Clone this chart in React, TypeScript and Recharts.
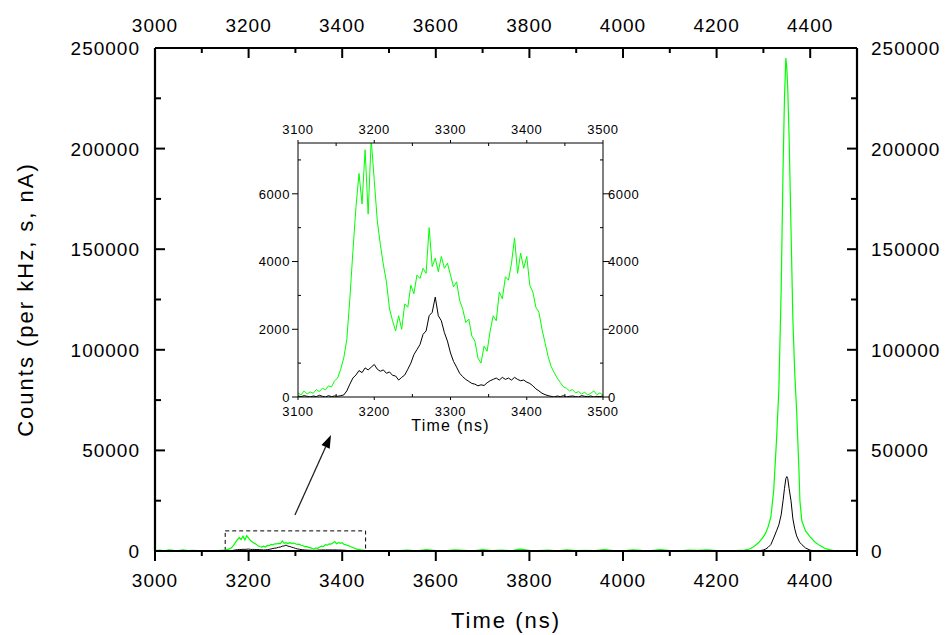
import { LineChart, Line, XAxis, YAxis, ReferenceArea, ReferenceLine } from "recharts";

// ---- data ----
const PRE_T = [3000, 3010, 3020, 3030, 3040, 3050, 3060, 3070, 3080, 3090];
const PRE_GREEN = [200, 450, 120, 600, 300, 150, 520, 250, 380, 180];
const PRE_BLACK = [0, 0, 0, 0, 0, 0, 0, 0, 0, 0];

const INSET_T = [
  3100, 3104, 3108, 3112, 3116, 3120, 3124, 3128, 3132, 3136,
  3140, 3144, 3148, 3152, 3156, 3160, 3164, 3168, 3172, 3176,
  3180, 3184, 3188, 3192, 3196, 3200, 3204, 3208, 3212, 3216,
  3220, 3224, 3228, 3232, 3236, 3240, 3244, 3248, 3252, 3256,
  3260, 3264, 3268, 3272, 3276, 3280, 3284, 3288, 3292, 3296,
  3300, 3304, 3308, 3312, 3316, 3320, 3324, 3328, 3332, 3336,
  3340, 3344, 3348, 3352, 3356, 3360, 3364, 3368, 3372, 3376,
  3380, 3384, 3388, 3392, 3396, 3400, 3404, 3408, 3412, 3416,
  3420, 3424, 3428, 3432, 3436, 3440, 3444, 3448, 3452, 3456,
  3460, 3464, 3468, 3472, 3476, 3480, 3484, 3488, 3492, 3496,
  3500,
];
const INSET_GREEN = [
  120, 60, 180, 90, 150, 110, 220, 160, 260, 210,
  330, 300, 480, 560, 820, 1150, 1700, 2900, 4300, 5600,
  6600, 5700, 7300, 5400, 7600, 6400, 5200, 4500, 3900, 3400,
  2600, 2250, 1950, 2400, 2000, 2750, 2650, 3300, 3050, 3600,
  3500, 3800, 3650, 5000, 3850, 4100, 3700, 4150, 3800, 3950,
  3600, 3250, 3400, 2850, 2600, 2200, 2300, 1800, 1650, 1150,
  1000, 1500, 1350, 1950, 2400, 2250, 3100, 2900, 3550, 3450,
  3950, 4700, 3650, 4250, 3800, 4150, 3300, 3100, 2650, 2500,
  2000, 1600, 1200, 900, 720, 560, 430, 300, 260, 180,
  220, 120, 160, 90, 140, 60, 110, 180, 70, 120,
  50,
];
const INSET_BLACK = [
  30, 10, 40, 20, 0, 30, 10, 50, 20, 0,
  40, 10, 30, 20, 40, 60, 180, 380, 560, 650,
  780, 720, 860, 800, 880, 960, 820, 760, 800, 700,
  740, 640, 620, 500, 580, 650, 820, 1000, 1250, 1400,
  1550, 1850, 1950, 2400, 2500, 2950, 2400, 2250, 1900, 1650,
  1300, 1050, 880, 700, 600, 520, 460, 400, 380, 330,
  360, 340, 420, 480, 520, 560, 500, 580, 520, 560,
  500, 580, 520, 480, 500, 440, 400, 330, 240, 180,
  110, 70, 40, 20, 0, 30, 10, 40, 0, 20,
  30, 10, 0, 40, 20, 10, 30, 0, 20, 10,
  30,
];

const POST_T = [
  3520, 3540, 3560, 3580, 3600, 3620, 3640, 3660, 3680, 3700, 3720, 3740,
  3760, 3780, 3800, 3820, 3840, 3860, 3880, 3900, 3920, 3940, 3960, 3980,
  4000, 4020, 4040, 4060, 4080, 4100, 4120, 4140, 4160, 4180, 4200, 4220,
];
const POST_GREEN = [
  150, 420, 90, 700, 260, 130, 550, 310, 80, 640, 220, 400,
  120, 880, 300, 180, 470, 90, 620, 250, 350, 140, 720, 200,
  90, 510, 280, 160, 650, 230, 110, 400, 300, 520, 180, 260,
];
const POST_BLACK = [
  0, 0, 0, 0, 0, 0, 0, 0, 0, 0, 0, 0,
  0, 0, 0, 0, 0, 0, 0, 0, 0, 0, 0, 0,
  0, 0, 0, 0, 0, 0, 0, 0, 0, 0, 0, 0,
];

const PEAK_T = [
  4240, 4260, 4270, 4280, 4290, 4300, 4305, 4310, 4316, 4322, 4328, 4333,
  4338, 4342, 4345, 4348, 4350, 4352, 4355, 4359, 4363, 4367, 4371, 4376,
  4378, 4382, 4390, 4400, 4410, 4420, 4430, 4440, 4450, 4460,
];
const PEAK_GREEN = [
  150, 400, 1000, 2200, 4200, 7000, 9000, 12000, 17000, 30000, 55000, 80000,
  130000, 190000, 225000, 245000, 240000, 230000, 205000, 160000, 115000, 88000, 70000, 40000,
  25000, 15000, 10000, 7000, 4500, 2800, 1500, 700, 200, 80,
];
const PEAK_BLACK = [
  0, 0, 0, 0, 100, 500, 1000, 1800, 3200, 6500, 10000, 13000,
  18000, 25000, 31000, 36000, 37000, 36000, 31000, 25000, 16000, 11000, 7500, 5000,
  4200, 3200, 1500, 400, 100, 0, 0, 0, 0, 0,
];

const TAIL_T = [4470, 4480, 4490, 4500];
const TAIL_GREEN = [90, 160, 60, 120];
const TAIL_BLACK = [0, 0, 0, 0];

const MAIN_X_TICKS = [3000, 3100, 3200, 3300, 3400, 3500, 3600, 3700, 3800, 3900, 4000, 4100, 4200, 4300, 4400, 4500];
const MAIN_Y_TICKS = [0, 25000, 50000, 75000, 100000, 125000, 150000, 175000, 200000, 225000, 250000];
const INSET_X_TICKS = [3100, 3150, 3200, 3250, 3300, 3350, 3400, 3450, 3500];
const INSET_Y_TICKS = [0, 1000, 2000, 3000, 4000, 5000, 6000, 7000];

function rows(t: number[], g: number[], k: number[]) {
  return t.map((v, i) => ({ t: v, g: g[i], k: k[i] }));
}

const mainRows = [
  ...rows(PRE_T, PRE_GREEN, PRE_BLACK),
  ...rows(INSET_T, INSET_GREEN, INSET_BLACK),
  ...rows(POST_T, POST_GREEN, POST_BLACK),
  ...rows(PEAK_T, PEAK_GREEN, PEAK_BLACK),
  ...rows(TAIL_T, TAIL_GREEN, TAIL_BLACK),
];
const insetRows = rows(INSET_T, INSET_GREEN, INSET_BLACK);

const FONT = "'Liberation Sans', Arial, sans-serif";

// custom tick: draws its own tick mark (major/minor, in/out) and label
function makeTick(o: any) {
  return (props: any) => {
    const { x, y, payload } = props;
    const v = payload.value;
    const maj = o.isMajor(v);
    const len = maj ? o.major : o.minor;
    const out = maj ? o.out : o.minorOut;
    const txt = { fontFamily: FONT, fontSize: o.fontSize, letterSpacing: o.spacing, fill: "#000" };
    let d = 0;
    let line: any = null;
    let label: any = null;
    if (o.side === "bottom") {
      d = out ? len : -len;
      line = <line x1={x} y1={y} x2={x} y2={y + d} />;
      if (maj) label = <text x={x} y={y + o.gap} textAnchor="middle" {...txt}>{v}</text>;
    } else if (o.side === "top") {
      d = out ? -len : len;
      line = <line x1={x} y1={y} x2={x} y2={y + d} />;
      if (maj) label = <text x={x} y={y - o.gap} textAnchor="middle" {...txt}>{v}</text>;
    } else if (o.side === "left") {
      d = out ? -len : len;
      line = <line x1={x} y1={y} x2={x + d} y2={y} />;
      if (maj) label = <text x={x - o.gap} y={y + o.base} textAnchor="end" {...txt}>{v}</text>;
    } else {
      d = out ? len : -len;
      line = <line x1={x} y1={y} x2={x + d} y2={y} />;
      if (maj) label = <text x={x + o.gap} y={y + o.base} textAnchor="start" {...txt}>{v}</text>;
    }
    return (
      <g stroke="#000" strokeWidth={o.lw}>
        {line}
        <g stroke="none">{label}</g>
      </g>
    );
  };
}

const mainX = (side: string, out: boolean, gap: number) =>
  makeTick({ side, isMajor: (v: number) => v % 200 === 0, major: 10, minor: 5, out, minorOut: out, gap, fontSize: 19, spacing: 1, base: 7, lw: 2 });
const mainY = (side: string, gap: number) =>
  makeTick({ side, isMajor: (v: number) => v % 50000 === 0, major: 10, minor: 6, out: false, minorOut: false, gap, fontSize: 19, spacing: 1, base: 7, lw: 2 });
const insX = (side: string, gap: number) =>
  makeTick({ side, isMajor: (v: number) => v % 100 === 0, major: 3, minor: 3, out: true, minorOut: false, gap, fontSize: 13, spacing: 0.6, base: 4.7, lw: 1 });
const insY = (side: string, gap: number) =>
  makeTick({ side, isMajor: (v: number) => v % 2000 === 0, major: 6, minor: 3, out: true, minorOut: false, gap, fontSize: 13, spacing: 0.6, base: 4.7, lw: 1 });

const Arrow = (p: any) => {
  const { x1, y1, x2, y2 } = p;
  const dx = x2 - x1;
  const dy = y2 - y1;
  const L = Math.sqrt(dx * dx + dy * dy) || 1;
  const ux = dx / L;
  const uy = dy / L;
  const hl = 13;
  const hw = 4.5;
  const bx = x2 - ux * hl;
  const by = y2 - uy * hl;
  return (
    <g>
      <line x1={x1} y1={y1} x2={bx} y2={by} stroke="#222" strokeWidth={1.3} />
      <polygon
        points={`${x2},${y2} ${bx - uy * hw},${by + ux * hw} ${bx + uy * hw},${by - ux * hw}`}
        fill="#000"
      />
    </g>
  );
};

const axisMain = { stroke: "#000", strokeWidth: 2.2 };
const axisInset = { stroke: "#000", strokeWidth: 1 };

export default function App() {
  return (
    <div style={{ position: "absolute", left: 0, top: 0, width: 945, height: 635, background: "#fff" }}>
      <div style={{ position: "absolute", left: 0, top: 0 }}>
        <LineChart width={945} height={635} data={mainRows} margin={{ top: 0, right: 0, bottom: 0, left: 0 }}>
          <XAxis
            xAxisId="b" dataKey="t" type="number" orientation="bottom" domain={[3000, 4500]}
            ticks={MAIN_X_TICKS} interval={0} height={84} tickSize={0} tickMargin={0} tickLine={false}
            stroke="#000" axisLine={axisMain} tick={mainX("bottom", true, 36)}
            label={{
              content: (p: any) => {
                const vb = p.viewBox || { x: 155, y: 551, width: 702 };
                return (
                  <text x={vb.x + vb.width / 2} y={vb.y + 77} textAnchor="middle"
                    style={{ fontFamily: FONT, fontSize: 22, letterSpacing: 2, fill: "#000" }}>
                    Time (ns)
                  </text>
                );
              },
            }}
          />
          <XAxis
            xAxisId="t" dataKey="t" type="number" orientation="top" domain={[3000, 4500]}
            ticks={MAIN_X_TICKS} interval={0} height={48} tickSize={0} tickMargin={0} tickLine={false}
            stroke="#000" axisLine={axisMain} tick={mainX("top", false, 16)}
          />
          <YAxis
            yAxisId="l" type="number" orientation="left" domain={[0, 250000]} ticks={MAIN_Y_TICKS}
            interval={0} width={155} tickSize={0} tickMargin={0} tickLine={false}
            stroke="#000" axisLine={axisMain} tick={mainY("left", 15)}
            label={{
              content: (p: any) => {
                const vb = p.viewBox || { x: 0, y: 48, height: 503 };
                const cy = vb.y + vb.height / 2;
                return (
                  <text transform={`translate(33, ${cy}) rotate(-90)`} x={0} y={0} textAnchor="middle"
                    style={{ fontFamily: FONT, fontSize: 22, letterSpacing: 2, fill: "#000" }}>
                    Counts (per kHz, s, nA)
                  </text>
                );
              },
            }}
          />
          <YAxis
            yAxisId="r" type="number" orientation="right" domain={[0, 250000]} ticks={MAIN_Y_TICKS}
            interval={0} width={88} tickSize={0} tickMargin={0} tickLine={false}
            stroke="#000" axisLine={axisMain} tick={mainY("right", 14)}
          />
          <ReferenceArea
            xAxisId="b" yAxisId="l" x1={3150} x2={3450} y1={0} y2={10000}
            fill="none" fillOpacity={0} stroke="#000" strokeWidth={1} strokeDasharray="4 3"
          />
          <ReferenceLine
            xAxisId="b" yAxisId="l"
            segment={[{ x: 3299, y: 17900 }, { x: 3376, y: 57600 }]}
            shape={Arrow}
          />
          <Line xAxisId="t" yAxisId="r" dataKey="k" stroke="#000" strokeWidth={1} dot={false} activeDot={false} isAnimationActive={false} />
          <Line xAxisId="b" yAxisId="l" dataKey="g" stroke="#00ff00" strokeWidth={1.2} dot={false} activeDot={false} isAnimationActive={false} />
        </LineChart>
      </div>

      <div style={{ position: "absolute", left: 230, top: 110 }}>
        <LineChart width={420} height={330} data={insetRows} margin={{ top: 0, right: 0, bottom: 0, left: 0 }}>
          <XAxis
            xAxisId="b" dataKey="t" type="number" orientation="bottom" domain={[3100, 3500]}
            ticks={INSET_X_TICKS} interval={0} height={43} tickSize={0} tickMargin={0} tickLine={false}
            stroke="#000" axisLine={axisInset} tick={insX("bottom", 19)}
            label={{
              content: (p: any) => {
                const vb = p.viewBox || { x: 68, y: 287, width: 305 };
                return (
                  <text x={vb.x + vb.width / 2} y={vb.y + 34} textAnchor="middle"
                    style={{ fontFamily: FONT, fontSize: 16, letterSpacing: 1.3, fill: "#000" }}>
                    Time (ns)
                  </text>
                );
              },
            }}
          />
          <XAxis
            xAxisId="t" dataKey="t" type="number" orientation="top" domain={[3100, 3500]}
            ticks={INSET_X_TICKS} interval={0} height={33} tickSize={0} tickMargin={0} tickLine={false}
            stroke="#000" axisLine={axisInset} tick={insX("top", 9)}
          />
          <YAxis
            yAxisId="l" type="number" orientation="left" domain={[0, 7500]} allowDataOverflow
            ticks={INSET_Y_TICKS} interval={0} width={68} tickSize={0} tickMargin={0} tickLine={false}
            stroke="#000" axisLine={axisInset} tick={insY("left", 8)}
          />
          <YAxis
            yAxisId="r" type="number" orientation="right" domain={[0, 7500]} allowDataOverflow
            ticks={INSET_Y_TICKS} interval={0} width={47} tickSize={0} tickMargin={0} tickLine={false}
            stroke="#000" axisLine={axisInset} tick={insY("right", 5)}
          />
          <Line xAxisId="b" yAxisId="l" dataKey="g" stroke="#00ff00" strokeWidth={1} dot={false} activeDot={false} isAnimationActive={false} />
          <Line xAxisId="t" yAxisId="r" dataKey="k" stroke="#000" strokeWidth={1} dot={false} activeDot={false} isAnimationActive={false} />
        </LineChart>
      </div>
    </div>
  );
}
